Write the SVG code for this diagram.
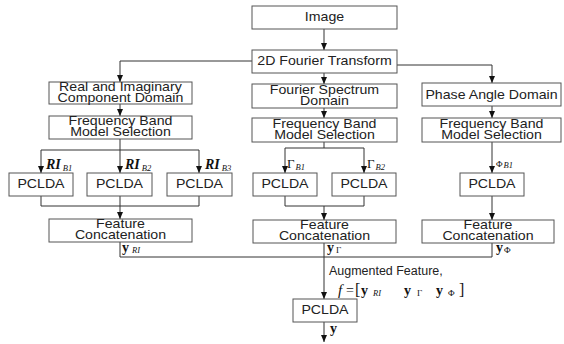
<svg xmlns="http://www.w3.org/2000/svg" width="564" height="344" viewBox="0 0 564 344">
  <style>
    .box { fill: #fff; stroke: #555; stroke-width: 1; }
    .t { font-family: "Liberation Sans", Arial, sans-serif; font-size: 12px; fill: #222; text-anchor: middle;
         transform-box: fill-box; transform-origin: center; transform: scaleX(1.18); }
    .tl { font-family: "Liberation Sans", Arial, sans-serif; font-size: 12px; fill: #222;
          transform-box: fill-box; transform-origin: left; transform: scaleX(1.04); }
    .m { font-family: "Liberation Serif", "Times New Roman", serif; fill: #111; }
    .mi { font-style: italic; font-weight: bold; font-size: 14px; }
    .mf { font-style: italic; font-size: 15px; }
    .mb { font-weight: bold; font-size: 14px; }
    .mu { font-size: 13px; }
    .s { font-style: italic; font-size: 8.5px; }
    .su { font-size: 9px; }
    .conn path { fill: none; stroke: #333; stroke-width: 1; }
  </style>
  <defs>
    <marker id="arr" markerUnits="userSpaceOnUse" markerWidth="7" markerHeight="6" refX="7" refY="3" orient="auto">
      <path d="M0,0 L7,3 L0,6 z" fill="#111"/>
    </marker>
  </defs>

  <!-- connectors -->
  <g id="connectors" class="conn">
    <path d="M324,29 V50" marker-end="url(#arr)"/>
    <path d="M252,61 H120 V82" marker-end="url(#arr)"/>
    <path d="M397,65 H492 V83" marker-end="url(#arr)"/>
    <path d="M324,73 V84" marker-end="url(#arr)"/>
    <path d="M120,104 V116" marker-end="url(#arr)"/>
    <path d="M324,108 V118" marker-end="url(#arr)"/>
    <path d="M492,106 V118" marker-end="url(#arr)"/>
    <!-- real/imaginary branch -->
    <path d="M120,139 V173" marker-end="url(#arr)"/>
    <path d="M41,150 H199"/>
    <path d="M41,150 V173" marker-end="url(#arr)"/>
    <path d="M199,150 V173" marker-end="url(#arr)"/>
    <path d="M41,196 V206 H199 V196"/>
    <path d="M120,196 V219" marker-end="url(#arr)"/>
    <!-- spectrum branch -->
    <path d="M324,142 V148"/>
    <path d="M285,148 H364"/>
    <path d="M285,148 V173" marker-end="url(#arr)"/>
    <path d="M364,148 V173" marker-end="url(#arr)"/>
    <path d="M285,196 V206 H364 V196"/>
    <path d="M324,206 V220" marker-end="url(#arr)"/>
    <!-- phase branch -->
    <path d="M492,142 V173" marker-end="url(#arr)"/>
    <path d="M492,196 V220" marker-end="url(#arr)"/>
    <!-- fusion -->
    <path d="M120,242 V257 H492 V243"/>
    <path d="M324,243 V299" marker-end="url(#arr)"/>
    <path d="M324,322 V342" marker-end="url(#arr)"/>
  </g>

  <g id="image">
    <rect class="box" x="252" y="6" width="145" height="23"/>
    <text class="t" x="324.5" y="21.5">Image</text>
  </g>
  <g id="fourier-transform">
    <rect class="box" x="252" y="50" width="145" height="23"/>
    <text class="t" x="324.5" y="65.5">2D Fourier Transform</text>
  </g>

  <g id="ri-domain">
    <rect class="box" x="49" y="82" width="143" height="22"/>
    <text class="t" x="120.5" y="91">Real and Imaginary</text>
    <text class="t" x="120.5" y="102">Component Domain</text>
  </g>
  <g id="spectrum-domain">
    <rect class="box" x="252" y="84" width="145" height="24"/>
    <text class="t" x="324.5" y="94">Fourier Spectrum</text>
    <text class="t" x="324.5" y="105">Domain</text>
  </g>
  <g id="phase-domain">
    <rect class="box" x="422" y="83" width="139" height="23"/>
    <text class="t" x="491.5" y="99">Phase Angle Domain</text>
  </g>

  <g id="ri-band-selection">
    <rect class="box" x="49" y="116" width="143" height="23"/>
    <text class="t" x="120.5" y="125.5">Frequency Band</text>
    <text class="t" x="120.5" y="136.5">Model Selection</text>
  </g>
  <g id="spectrum-band-selection">
    <rect class="box" x="252" y="118" width="145" height="24"/>
    <text class="t" x="324.5" y="128">Frequency Band</text>
    <text class="t" x="324.5" y="139">Model Selection</text>
  </g>
  <g id="phase-band-selection">
    <rect class="box" x="422" y="118" width="139" height="24"/>
    <text class="t" x="491.5" y="128">Frequency Band</text>
    <text class="t" x="491.5" y="139">Model Selection</text>
  </g>

  <g id="pclda-ri1">
    <rect class="box" x="9" y="173" width="64" height="23"/>
    <text class="t" x="41" y="188.5">PCLDA</text>
  </g>
  <g id="pclda-ri2">
    <rect class="box" x="87" y="173" width="65" height="23"/>
    <text class="t" x="119.5" y="188.5">PCLDA</text>
  </g>
  <g id="pclda-ri3">
    <rect class="box" x="167" y="173" width="65" height="23"/>
    <text class="t" x="199.5" y="188.5">PCLDA</text>
  </g>
  <g id="pclda-sp1">
    <rect class="box" x="253" y="173" width="64" height="23"/>
    <text class="t" x="285" y="188.5">PCLDA</text>
  </g>
  <g id="pclda-sp2">
    <rect class="box" x="332" y="173" width="64" height="23"/>
    <text class="t" x="364" y="188.5">PCLDA</text>
  </g>
  <g id="pclda-ph1">
    <rect class="box" x="460" y="173" width="64" height="23"/>
    <text class="t" x="492" y="188.5">PCLDA</text>
  </g>

  <g id="concat-ri">
    <rect class="box" x="49" y="219" width="143" height="23"/>
    <text class="t" x="120.5" y="228">Feature</text>
    <text class="t" x="120.5" y="239">Concatenation</text>
  </g>
  <g id="concat-sp">
    <rect class="box" x="253" y="220" width="143" height="23"/>
    <text class="t" x="324.5" y="229">Feature</text>
    <text class="t" x="324.5" y="240">Concatenation</text>
  </g>
  <g id="concat-ph">
    <rect class="box" x="422" y="220" width="132" height="23"/>
    <text class="t" x="488" y="229">Feature</text>
    <text class="t" x="488" y="240">Concatenation</text>
  </g>

  <g id="pclda-final">
    <rect class="box" x="293" y="299" width="64" height="23"/>
    <text class="t" x="325" y="314.5">PCLDA</text>
  </g>

  <!-- band labels -->
  <g id="labels" class="m">
    <text x="46" y="169"><tspan class="mi">RI</tspan><tspan class="s" dx="2" dy="2">B1</tspan></text>
    <text x="125" y="169"><tspan class="mi">RI</tspan><tspan class="s" dx="2" dy="2">B2</tspan></text>
    <text x="205" y="169"><tspan class="mi">RI</tspan><tspan class="s" dx="2" dy="2">B3</tspan></text>
    <text x="287" y="168"><tspan class="mu">Γ</tspan><tspan class="s" dx="1" dy="2">B1</tspan></text>
    <text x="367" y="168"><tspan class="mu">Γ</tspan><tspan class="s" dx="1" dy="2">B2</tspan></text>
    <text x="496" y="167"><tspan class="su">Φ</tspan><tspan class="s" dx="1" dy="1">B1</tspan></text>

    <text x="122" y="252"><tspan class="mb">y</tspan><tspan class="s" dx="3" dy="1">RI</tspan></text>
    <text x="327" y="252"><tspan class="mb">y</tspan><tspan class="su" dx="2" dy="1">Γ</tspan></text>
    <text x="496" y="252"><tspan class="mb">y</tspan><tspan class="su" dx="1" dy="1">Φ</tspan></text>

    <text x="330" y="333" class="mb">y</text>

    <text y="295">
      <tspan class="mf" x="338">f</tspan>
      <tspan x="346" font-size="14px">=</tspan>
      <tspan x="355" font-size="16px">[</tspan>
      <tspan class="mb" x="361">y</tspan>
      <tspan class="s" x="373" dy="1">RI</tspan>
      <tspan class="mb" x="404" dy="-1">y</tspan>
      <tspan class="su" x="417" dy="1">Γ</tspan>
      <tspan class="mb" x="436" dy="-1">y</tspan>
      <tspan class="su" x="448" dy="1">Φ</tspan>
      <tspan x="459" dy="-1" font-size="16px">]</tspan>
    </text>
  </g>
  <text class="tl" x="329" y="275">Augmented Feature,</text>
</svg>
